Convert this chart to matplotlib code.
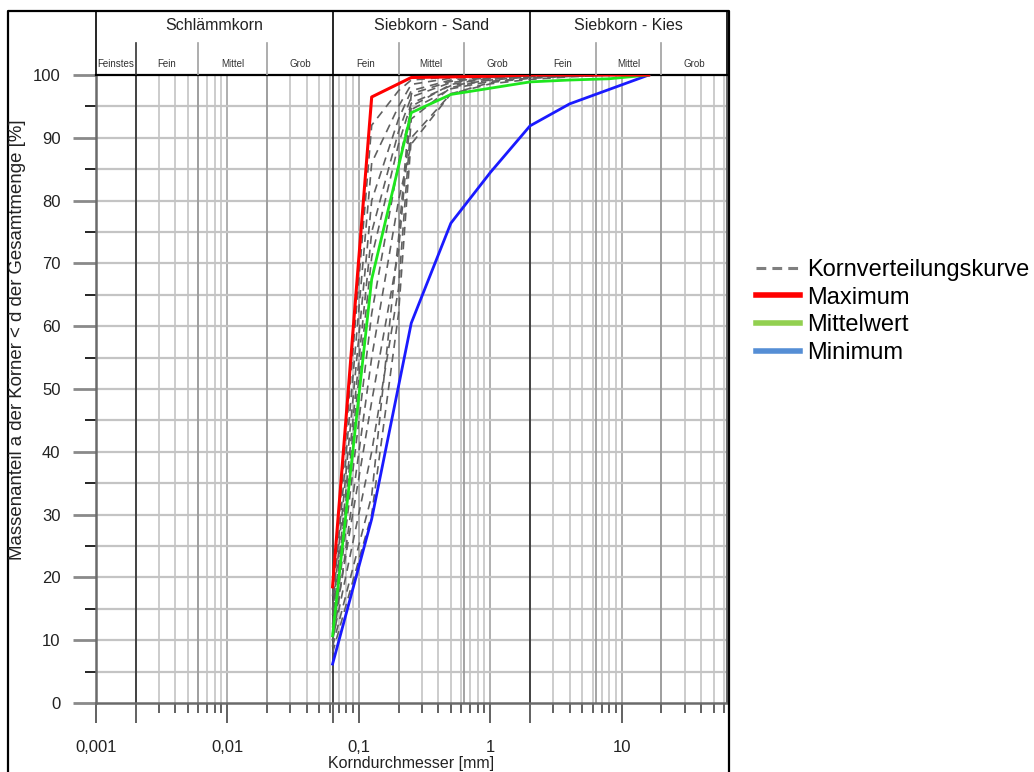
import matplotlib.pyplot as plt
from matplotlib.lines import Line2D

plt.rcParams['font.family'] = ['Liberation Sans', 'DejaVu Sans']

# Siebdurchgang der Einzelproben (Korndurchmesser mm -> Durchgang %)
sieb_proben = [0.063, 0.125, 0.2, 0.25, 0.5, 1, 2, 4, 8, 16]
proben = [
    [17.0, 92.0, 97.5, 99.2, 99.7, 99.9, 100, 100, 100, 100],
    [15.0, 86.0, 95.0, 98.5, 99.5, 99.8, 100, 100, 100, 100],
    [14.0, 80.0, 93.0, 97.5, 99.2, 99.7, 99.9, 100, 100, 100],
    [12.5, 75.0, 91.0, 96.5, 98.8, 99.5, 99.8, 100, 100, 100],
    [12.0, 71.0, 89.0, 95.5, 98.3, 99.2, 99.7, 99.9, 100, 100],
    [10.0, 62.0, 86.0, 94.5, 97.8, 99.0, 99.5, 99.8, 100, 100],
    [9.0, 55.0, 80.0, 89.0, 97.0, 98.6, 99.3, 99.7, 100, 100],
    [11.0, 48.0, 72.0, 95.0, 98.5, 99.5, 99.8, 100, 100, 100],
    [10.0, 40.0, 66.0, 93.0, 98.0, 99.3, 99.7, 100, 100, 100],
    [9.0, 33.0, 74.0, 97.0, 99.0, 99.6, 99.9, 100, 100, 100],
    [8.0, 30.0, 62.0, 90.0, 97.0, 98.8, 99.5, 99.8, 100, 100],
]

sieb = [0.063, 0.125, 0.25, 0.5, 1, 2, 4, 8, 16]
maximum = [18.5, 96.5, 99.6, 99.7, 99.8, 100, 100, 100, 100]
mittelwert = [10.7, 67.5, 94.0, 96.9, 97.9, 98.9, 99.2, 99.4, 100]
minimum = [6.2, 29.3, 60.5, 76.4, 84.5, 91.9, 95.4, 97.7, 100]

x_ticks = [0.001, 0.01, 0.1, 1, 10]
x_ticklabels = ['0,001', '0,01', '0,1', '1', '10']

# Bodengruppen nach DIN 4022
gruppen = ['Schlämmkorn', 'Siebkorn - Sand', 'Siebkorn - Kies']
gruppen_grenzen = [0.001, 0.063, 2, 63]
unter = ['Feinstes', 'Fein', 'Mittel', 'Grob', 'Fein', 'Mittel', 'Grob',
         'Fein', 'Mittel', 'Grob']
unter_grenzen = [0.001, 0.002, 0.006, 0.02, 0.063, 0.2, 0.63, 2, 6.3, 20, 63]

W, H = 1034, 772
fig = plt.figure(figsize=(W / 100, H / 100), dpi=100)

# plot area in pixels: x 96..727, y 75..703
L, R, T, B = 96, 727, 75, 703
ax = fig.add_axes([L / W, (H - B) / H, (R - L) / W, (B - T) / H])
ax.set_xscale('log')
ax.set_xlim(0.001, 63)
ax.set_ylim(0, 100)

# vertical grid
for k in range(-3, 2):
    for m in range(1, 10):
        x = m * 10.0 ** k
        if x >= 63:
            continue
        c = '#a8a8a8' if m == 1 else '#c8c8c8'
        ax.axvline(x, color=c, lw=1.3, zorder=0.5)
for x in [0.006, 0.02, 0.2, 0.63, 6.3, 20]:
    ax.axvline(x, color='#9c9c9c', lw=1.3, zorder=0.6)
for x in [0.002, 0.063, 2]:
    ax.axvline(x, color='#2a2a2a', lw=1.2, zorder=0.7)
for y in range(5, 100, 5):
    ax.axhline(y, color='#c4c4c4', lw=1.6, zorder=0.5)

for werte in proben:
    ax.plot(sieb_proben, werte, color='#606060', lw=1.2,
            ls=(0, (5, 3.5)), zorder=2)
ax.plot(sieb, minimum, color='#1a1aff', lw=2.0, zorder=3)
ax.plot(sieb, mittelwert, color='#1ee61e', lw=2.0, zorder=3)
ax.plot(sieb, maximum, color='#ff0000', lw=2.2, zorder=3)

# ticks
ax.set_yticks(range(0, 101, 10))
ax.set_yticks(range(5, 100, 10), minor=True)
ax.tick_params(axis='y', which='major', length=16.5, width=2,
               color='#8a8a8a', pad=9, labelsize=12, labelcolor='#222222')
ax.tick_params(axis='y', which='minor', length=8, width=1.2, color='black')

major_x = [0.001, 0.002, 0.01, 0.063, 0.1, 1, 2, 10]
labels_x = [x_ticklabels[x_ticks.index(x)] if x in x_ticks else ''
            for x in major_x]
ax.set_xticks(major_x, labels=labels_x)
minor_x = [m * 10.0 ** k for k in range(-3, 2) for m in range(2, 10)
           if m * 10.0 ** k < 63 and m * 10.0 ** k not in major_x]
ax.set_xticks(minor_x, minor=True)
ax.set_xticklabels([], minor=True)
ax.tick_params(axis='x', which='major', length=14.5, width=1.3,
               color='#555555', pad=12, labelsize=12, labelcolor='#222222')
ax.tick_params(axis='x', which='minor', length=7.5, width=1.3,
               color='#555555')

for s in ['left', 'bottom']:
    ax.spines[s].set_color('#6a6a6a')
    ax.spines[s].set_linewidth(1.8)
ax.spines['top'].set_color('black')
ax.spines['top'].set_linewidth(1.6)
ax.spines['right'].set_color('#6a6a6a')
ax.spines['right'].set_linewidth(1.5)

ax.set_xlabel('Korndurchmesser [mm]', fontsize=11.5, labelpad=1,
              color='#222222')
fig.text(18 / W, 1 - 340 / H,
         'Massenanteil a der Körner < d der Gesamtmenge [%]',
         rotation=90, ha='center', va='center', fontsize=13.4,
         color='#222222')

# header with soil classes
top_px = 11
hx = fig.add_axes([L / W, (H - T) / H, (R - L) / W, (T - top_px) / H])
hx.set_xscale('log')
hx.set_xlim(0.001, 63)
hx.set_ylim(0, 1)
hx.axis('off')
sub_top = (T - 43) / (T - top_px)
for x in gruppen_grenzen:
    hx.plot([x, x], [0, 1], color='black', lw=1.2, clip_on=False)
for x in unter_grenzen[1:-1]:
    if x in gruppen_grenzen:
        continue
    c = '#333333' if x == 0.002 else '#a0a0a0'
    hx.plot([x, x], [0, sub_top], color=c, lw=1.2)
for i, name in enumerate(gruppen):
    a, b = gruppen_grenzen[i], gruppen_grenzen[i + 1]
    hx.text((a * b) ** 0.5, (T - 26) / (T - top_px), name, ha='center',
            va='center', fontsize=11.5, color='#222222')
for i, name in enumerate(unter):
    a, b = unter_grenzen[i], unter_grenzen[i + 1]
    hx.text((a * b) ** 0.5, (T - 64) / (T - top_px), name, ha='center',
            va='center', fontsize=7, color='#333333')

# outer frame
fx0, fx1, fy1 = 8 / W, 729 / W, 1 - top_px / H
fig.add_artist(Line2D([fx0, fx0, fx1, fx1], [0, fy1, fy1, 0],
                      transform=fig.transFigure, color='black', lw=1.6))

handles = [
    Line2D([], [], color='#7f7f7f', lw=2.2, ls=(0, (3.2, 2.0))),
    Line2D([], [], color='#ff0000', lw=4),
    Line2D([], [], color='#92d050', lw=4),
    Line2D([], [], color='#558ed5', lw=4),
]
fig.legend(handles, ['Kornverteilungskurve', 'Maximum', 'Mittelwert',
                     'Minimum'],
           loc='upper left', bbox_to_anchor=(756 / W, 1 - 259 / H),
           frameon=False, fontsize=17, handlelength=1.85, handletextpad=0.3,
           labelspacing=0.24, borderpad=0, borderaxespad=0)

fig.savefig('out.png', dpi=100)
